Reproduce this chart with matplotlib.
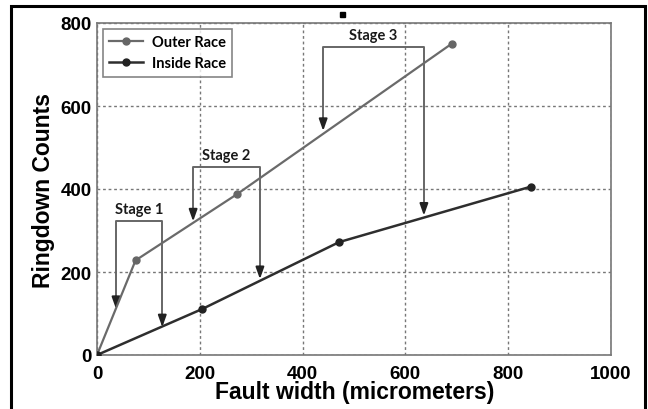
import matplotlib.pyplot as plt
from matplotlib.patches import Rectangle

# Ringdown counts against fault width for the two bearing races
outer_width = [0, 75, 273, 690]
outer_counts = [0, 228, 388, 750]
inside_width = [0, 205, 471, 845]
inside_counts = [0, 111, 272, 406]

# Stage brackets: left/right x, bracket top, where each arrow lands
stage_names = ["Stage 1", "Stage 2", "Stage 3"]
stage_left = [37, 187, 440]
stage_right = [127, 317, 636]
stage_top = [323, 453, 742]
stage_left_end = [111, 322, 540]
stage_right_end = [67, 183, 336]

xticks = [0, 200, 400, 600, 800, 1000]
yticks = [0, 200, 400, 600, 800]

fig = plt.figure(figsize=(6.48, 4.10), dpi=100)
ax = fig.add_axes([97 / 648, 1 - 356 / 410, 514 / 648, 332 / 410])

ax.plot(outer_width, outer_counts, '-', color='#6a6a6a', linewidth=1.6,
        marker='o', markersize=5, markerfacecolor='#666666',
        markeredgecolor='#666666', label='Outer Race', zorder=3)
ax.plot(inside_width, inside_counts, '-', color='#2e2e2e', linewidth=1.8,
        marker='o', markersize=5, markerfacecolor='#222222',
        markeredgecolor='#222222', label='Inside Race', zorder=3)

for i in range(len(stage_names)):
    xl, xr, top = stage_left[i], stage_right[i], stage_top[i]
    yl, yr = stage_left_end[i], stage_right_end[i]
    # bracket in grey, arrow heads in near-black
    ax.plot([xl, xl, xr, xr], [yl + 15, top, top, yr + 15],
            color='#666666', linewidth=1.4, zorder=2)
    for x, yend in [(xl, yl), (xr, yr)]:
        ax.annotate('', xy=(x, yend), xytext=(x, yend + 30),
                    arrowprops=dict(arrowstyle='-|>,head_length=0.7,head_width=0.25',
                                    color='#222222', linewidth=1.4,
                                    shrinkA=0, shrinkB=0),
                    zorder=2)
    ax.text((xl + xr) / 2, top + 13, stage_names[i], ha='center', va='bottom',
            fontsize=10.5, fontweight='bold', family='Lato', color='#1a1a1a')

ax.set_xlim(0, 1000)
ax.set_ylim(0, 800)
ax.set_xticks(xticks)
ax.set_yticks(yticks)
ax.tick_params(axis='x', length=0, pad=7, labelsize=13.5)
ax.tick_params(axis='y', length=0, pad=4, labelsize=13.5)
for lbl in ax.get_xticklabels() + ax.get_yticklabels():
    lbl.set_fontweight('bold')
    lbl.set_family('Liberation Sans')
ax.grid(True, linestyle=(0, (2, 2)), color='#777777', linewidth=1.0)
for sp in ax.spines.values():
    sp.set_color('#777777')
    sp.set_linewidth(1.2)

ax.set_xlabel('Fault width (micrometers)', fontsize=16.5, fontweight='bold',
              family='Liberation Sans', va='center')
ax.set_ylabel('Ringdown Counts', fontsize=16.5, fontweight='bold',
              family='Liberation Sans', va='center')
ax.xaxis.set_label_coords(0.502, -0.11)
ax.yaxis.set_label_coords(-0.105, 0.5)

leg = ax.legend(loc='upper left', frameon=True, fancybox=False,
                borderaxespad=0.4, handlelength=2.3, handletextpad=0.6,
                borderpad=0.45, labelspacing=0.45,
                prop={'family': 'Lato', 'weight': 'bold', 'size': 10.5})
leg.get_frame().set_edgecolor('#666666')
leg.get_frame().set_linewidth(1.2)

# page frame and the stray dot above the plot
fig.patches.append(Rectangle((11 / 648, -0.05), 634 / 648, 1.05 - 7 / 410,
                             transform=fig.transFigure, fill=False,
                             edgecolor='black', linewidth=2.2))
fig.patches.append(Rectangle((340 / 648, 1 - 18 / 410), 5 / 648, 5 / 410,
                             transform=fig.transFigure, color='black'))

plt.savefig('out.png', dpi=100)
